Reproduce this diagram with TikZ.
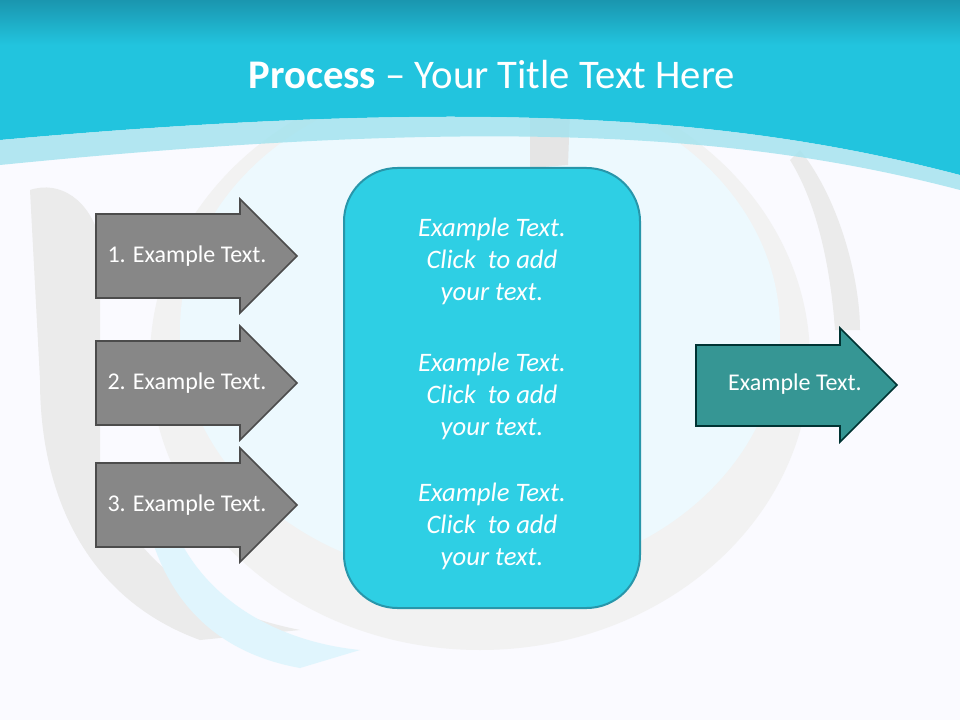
\documentclass[tikz,border=0pt]{standalone}
\usepackage{fontspec}
\setmainfont{Carlito}
\definecolor{hdr}{RGB}{34,196,222}
\definecolor{hdrtop}{RGB}{26,150,175}
\definecolor{band}{RGB}{160,226,238}
\begin{document}
\begin{tikzpicture}[x=0.75pt,y=-0.75pt,
  grayarrow/.style={draw=black!70,line width=1.2pt,fill=black!47},
  tealarrow/.style={draw=teal!40!black,line width=1.2pt},
  lbl/.style={text=white,font=\fontsize{18}{20}\selectfont},
  ctext/.style={text=white,font=\itshape\fontsize{20}{24}\selectfont,align=center}]
\useasboundingbox (0,0) rectangle (960,720);
\fill[blue!2!white] (0,0) rectangle (960,720);
% decorative sphere
\fill[black!5] (480,360) ellipse (330 and 290);
\fill[white!93!cyan] (480,330) ellipse (300 and 250);
\fill[black!8] (30,190) .. controls (60,180) and (90,200) .. (100,240) -- (100,470) .. controls (130,560) and (200,610) .. (300,630) -- (200,640) .. controls (90,600) and (40,500) .. (40,380) -- cycle;
\fill[cyan!12] (160,470) .. controls (170,580) and (260,640) .. (360,650) -- (300,668) .. controls (200,650) and (150,580) .. (140,480) -- cycle;
\fill[black!10] (530,115) -- (570,110) -- (568,165) -- (530,168) -- cycle;
\fill[black!8] (800,150) .. controls (840,200) and (860,280) .. (860,330) -- (835,330) .. controls (830,260) and (815,200) .. (790,160) -- cycle;
% header
\fill[hdr] (0,0) -- (960,0) -- (960,175) .. controls (750,120) and (500,95) .. (0,140) -- cycle;
\fill[band,opacity=0.8] (0,140) .. controls (500,95) and (750,120) .. (960,175) -- (960,190) .. controls (750,135) and (500,115) .. (0,165) -- cycle;
\shade[top color=hdrtop,bottom color=hdr] (0,0) rectangle (960,45);
\node[text=white,font=\fontsize{30.5}{34}\selectfont] (title) at (492,75) {\textbf{Process} -- Your Title Text Here};
% arrows
\foreach \c/\t/\n in {256/1/a1,383/2/a2,505/3/a3}{
  \draw[grayarrow] (96,\c-42) -- (240,\c-42) -- (240,\c-57) -- (297,\c) -- (240,\c+57) -- (240,\c+42) -- (96,\c+42) -- cycle;
  \node[lbl] (\n) at (187,\c) {\t. Example Text.};
}
\draw[tealarrow,fill={rgb,255:red,54;green,150;blue,148}] (696,345) -- (840,345) -- (840,328) -- (897,385) -- (840,442) -- (840,426) -- (696,426) -- cycle;
\node[lbl] (out) at (795,384) {Example Text.};
% central box
\draw[fill={rgb,255:red,46;green,207;blue,228},draw={rgb,255:red,40;green,150;blue,170},line width=1.5pt,rounded corners=40pt] (344,168) rectangle (640,608);
\node[ctext] (t1) at (492,261) {Example Text.\\Click\ \ to add\\your text.};
\node[ctext] (t2) at (492,396) {Example Text.\\Click\ \ to add\\your text.};
\node[ctext] (t3) at (492,526) {Example Text.\\Click\ \ to add\\your text.};
\end{tikzpicture}
\end{document}
